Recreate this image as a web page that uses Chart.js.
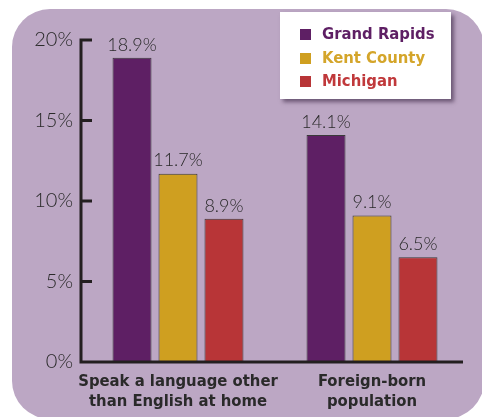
<!DOCTYPE html>
<html>
<head>
<meta charset="utf-8">
<script src="https://cdn.jsdelivr.net/npm/chart.js@4.4.1/dist/chart.umd.min.js"></script>
<style>
  html, body { margin: 0; padding: 0; background: #fff; }
  #wrap { position: relative; width: 482px; height: 417px; overflow: hidden; }
  #panel {
    position: absolute; left: 12px; top: 9px; width: 472px; height: 410px;
    background: #bca7c4; border-radius: 38px;
  }
  #chart { position: absolute; left: 0; top: 0; }
  #legend {
    position: absolute; left: 280px; top: 12px; width: 171px; height: 87px;
    background: #fff; box-shadow: 3px 3px 4px rgba(40, 20, 50, 0.55);
    font-family: 'Liberation Sans Narrow', 'DejaVu Sans Condensed', 'Roboto', sans-serif;
    font-weight: bold; font-size: 16.5px;
  }
  #legend .item { position: absolute; left: 20px; height: 22px; line-height: 22px; white-space: nowrap; }
  #legend .box { position: absolute; left: 0; top: 6px; width: 11px; height: 11px; }
  #legend .lbl { position: absolute; left: 22px; top: 0; }
</style>
</head>
<body>
<div id="wrap">
  <div id="panel"></div>
  <canvas id="chart" width="482" height="417"></canvas>
  <div id="legend"></div>
</div>
<script>
// Data
const categories = [['Speak a language other', 'than English at home'], ['Foreign-born', 'population']];
const seriesNames = ['Grand Rapids', 'Kent County', 'Michigan'];
const grandRapids = [18.9, 14.1];
const kentCounty = [11.7, 9.1];
const michigan = [8.9, 6.5];
const yTicks = [0, 5, 10, 15, 20];

const barColors = ['#5e1f64', '#cf9f20', '#b83537'];
const legendTextColors = ['#5e1f64', '#d4a52a', '#c0393b'];

const lightFont = "'Lato', 'Open Sans', sans-serif";
const boldFont = "'Liberation Sans Narrow', 'DejaVu Sans Condensed', 'Roboto', sans-serif";

// Axis lines and inward tick marks, drawn from the scales
const axisPlugin = {
  id: 'axisLines',
  afterDatasetsDraw(chart) {
    const { ctx, scales: { x, y } } = chart;
    const left = x.left;
    const bottom = y.getPixelForValue(0);
    const top = y.getPixelForValue(yTicks[yTicks.length - 1]);
    ctx.save();
    ctx.strokeStyle = '#231f20';
    ctx.lineWidth = 3;
    ctx.lineCap = 'butt';
    ctx.beginPath();
    ctx.moveTo(left, top - 1.5);
    ctx.lineTo(left, bottom + 1.5);
    ctx.moveTo(left - 1.5, bottom);
    ctx.lineTo(x.right - 6, bottom);
    yTicks.forEach(v => {
      if (v === 0) return;
      const py = y.getPixelForValue(v);
      ctx.moveTo(left, py);
      ctx.lineTo(left + 11, py);
    });
    ctx.stroke();
    ctx.restore();
  }
};

// Value labels above each bar
const valuePlugin = {
  id: 'valueLabels',
  afterDatasetsDraw(chart) {
    const { ctx } = chart;
    ctx.save();
    ctx.font = '300 18px ' + lightFont;
    ctx.fillStyle = '#2a2a2a';
    ctx.textAlign = 'center';
    ctx.textBaseline = 'bottom';
    chart.data.datasets.forEach((ds, i) => {
      chart.getDatasetMeta(i).data.forEach((bar, j) => {
        ctx.fillText(ds.data[j].toFixed(1) + '%', bar.x, bar.y - 4);
      });
    });
    ctx.restore();
  }
};

const chart = new Chart(document.getElementById('chart'), {
  type: 'bar',
  data: {
    labels: categories,
    datasets: [grandRapids, kentCounty, michigan].map((d, i) => ({
      label: seriesNames[i],
      data: d,
      backgroundColor: barColors[i],
      borderColor: '#3a3a3a',
      borderWidth: 1,
      categoryPercentage: 0.711,
      barPercentage: 0.848
    }))
  },
  options: {
    responsive: false,
    animation: false,
    layout: { padding: { top: 40, right: 13, left: 0, bottom: 0 } },
    plugins: {
      legend: { display: false },
      tooltip: { enabled: false }
    },
    scales: {
      x: {
        grid: { display: false, drawTicks: false },
        border: { display: false },
        ticks: {
          color: '#2a2a2a',
          padding: 9,
          maxRotation: 0,
          minRotation: 0,
          autoSkip: false,
          font: { family: boldFont, weight: 'bold', size: 16.5, lineHeight: 1.25 }
        },
        afterFit(scale) { scale.height = 55; }
      },
      y: {
        min: 0,
        max: 20,
        grid: { display: false, drawTicks: false },
        border: { display: false },
        afterBuildTicks(scale) { scale.ticks = yTicks.map(v => ({ value: v })); },
        ticks: {
          color: '#2a2a2a',
          padding: 8,
          font: { family: lightFont, weight: 300, size: 20 },
          callback: v => v + '%'
        },
        afterFit(scale) { scale.width = 81; }
      }
    }
  },
  plugins: [axisPlugin, valuePlugin]
});

// HTML legend built from the chart's datasets
const legendEl = document.getElementById('legend');
chart.data.datasets.forEach((ds, i) => {
  const item = document.createElement('div');
  item.className = 'item';
  item.style.top = (11 + i * 23.5) + 'px';
  item.innerHTML = '<span class="box" style="background:' + ds.backgroundColor + '"></span>' +
    '<span class="lbl" style="color:' + legendTextColors[i] + '">' + ds.label + '</span>';
  legendEl.appendChild(item);
});
</script>
</body>
</html>
